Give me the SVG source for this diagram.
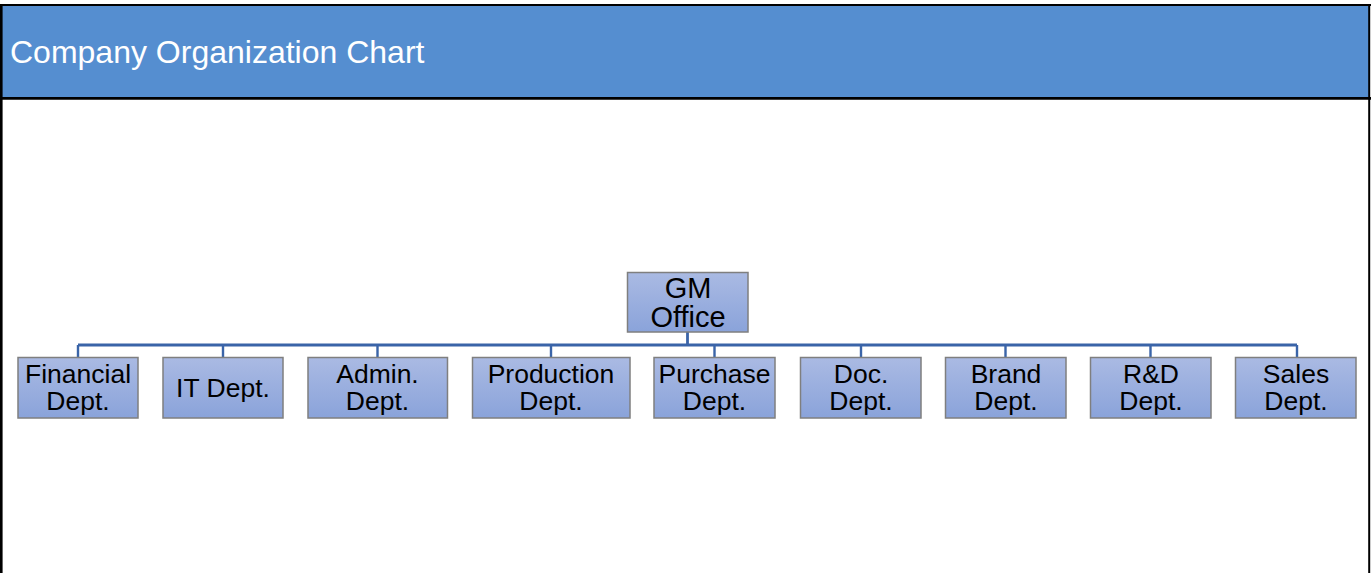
<svg xmlns="http://www.w3.org/2000/svg" width="1371" height="573" viewBox="0 0 1371 573">
<defs>
<linearGradient id="bx" x1="0" y1="0" x2="0" y2="1">
<stop offset="0" stop-color="#AABAE3"/>
<stop offset="1" stop-color="#8AA3DA"/>
</linearGradient>
</defs>
<style>
.box{fill:url(#bx);stroke:#7F7F7F;stroke-width:1.5}
.t{font-family:"Liberation Sans",Arial,sans-serif;font-size:26.5px;fill:#000;text-anchor:middle}
.gm{font-size:29px}
.con{stroke:#3A64A8;fill:none}
</style>
<rect x="0" y="0" width="1371" height="573" fill="#FFFFFF"/>
<g id="header">
<rect x="1.5" y="5" width="1368" height="93" fill="#558ED0"/>
<text x="10" y="63" font-family="Liberation Sans,Arial,sans-serif" font-size="32" fill="#FFFFFF">Company Organization Chart</text>
</g>
<g id="frame" stroke="#000" fill="none">
<line x1="1.3" y1="4" x2="1.3" y2="573" stroke-width="2.6"/>
<line x1="1369.2" y1="4" x2="1369.2" y2="573" stroke-width="2"/>
<line x1="0" y1="5" x2="1371" y2="5" stroke-width="2"/>
<line x1="0" y1="98.3" x2="1371" y2="98.3" stroke-width="2.8"/>
</g>
<g id="connectors" class="con">
<line x1="687.5" y1="332" x2="687.5" y2="345" stroke-width="2.8"/>
<line x1="78" y1="345" x2="1297" y2="345" stroke-width="3"/>
<path d="M78 345V357M223 345V357M377.5 345V357M551 345V357M714.5 345V357M861 345V357M1005.5 345V357M1150.5 345V357M1297 345V357" stroke-width="2.4"/>
</g>
<g id="gm"><rect class="box" x="627.5" y="272.5" width="120.5" height="59.5"/><text class="t gm" x="688" y="297.5">GM</text><text class="t gm" x="688" y="326.5">Office</text></g>
<g id="financial"><rect class="box" x="18" y="357.5" width="120" height="60.5"/><text class="t" x="78" y="382.5">Financial</text><text class="t" x="78" y="409.5">Dept.</text></g>
<g id="it"><rect class="box" x="163" y="357.5" width="120" height="60.5"/><text class="t" x="223" y="396.5">IT Dept.</text></g>
<g id="admin"><rect class="box" x="308" y="357.5" width="139.5" height="60.5"/><text class="t" x="377.5" y="382.5">Admin.</text><text class="t" x="377.5" y="409.5">Dept.</text></g>
<g id="production"><rect class="box" x="472.5" y="357.5" width="157.5" height="60.5"/><text class="t" x="551" y="382.5">Production</text><text class="t" x="551" y="409.5">Dept.</text></g>
<g id="purchase"><rect class="box" x="654" y="357.5" width="121" height="60.5"/><text class="t" x="714.5" y="382.5">Purchase</text><text class="t" x="714.5" y="409.5">Dept.</text></g>
<g id="doc"><rect class="box" x="800.5" y="357.5" width="120.5" height="60.5"/><text class="t" x="861" y="382.5">Doc.</text><text class="t" x="861" y="409.5">Dept.</text></g>
<g id="brand"><rect class="box" x="945.5" y="357.5" width="120.5" height="60.5"/><text class="t" x="1006" y="382.5">Brand</text><text class="t" x="1006" y="409.5">Dept.</text></g>
<g id="rd"><rect class="box" x="1090.5" y="357.5" width="120.5" height="60.5"/><text class="t" x="1151" y="382.5">R&amp;D</text><text class="t" x="1151" y="409.5">Dept.</text></g>
<g id="sales"><rect class="box" x="1235.5" y="357.5" width="120.5" height="60.5"/><text class="t" x="1296" y="382.5">Sales</text><text class="t" x="1296" y="409.5">Dept.</text></g>
</svg>
